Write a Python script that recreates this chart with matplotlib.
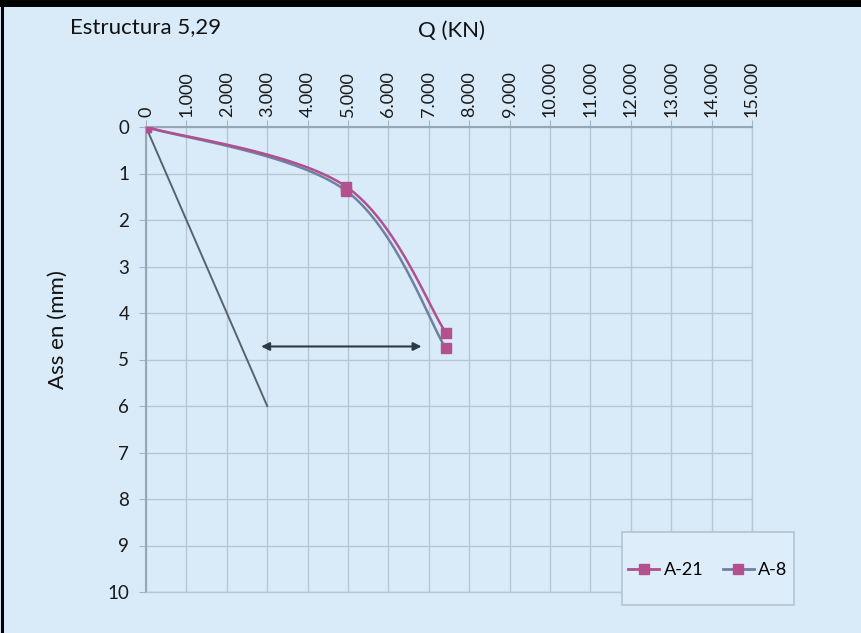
import numpy as np
import matplotlib
matplotlib.use("Agg")
import matplotlib.pyplot as plt
from matplotlib.ticker import FuncFormatter
from matplotlib.lines import Line2D
from matplotlib.patches import Rectangle

plt.rcParams["font.family"] = ["Lato", "DejaVu Sans"]

# ---- data ----
series_names = ["A-21", "A-8"]
q_a21 = [0, 4950, 7420]
d_a21 = [0, 1.28, 4.42]
q_a8 = [0, 4950, 7420]
d_a8 = [0, 1.37, 4.76]
ref_line_q = [0, 3000]
ref_line_d = [0, 6.0]
arrow_q = [2850, 6820]
arrow_d = [4.72, 4.72]
x_ticks = list(range(0, 15001, 1000))
y_ticks = list(range(0, 11))

BG = "#d9ebf9"
C_A21 = "#b0508f"
C_A8 = "#6f80a3"
C_MARK = "#b5508f"


def smooth(xs, ys, n=60):
    """Excel-like smoothed line (Catmull-Rom Bezier) through the points."""
    P = np.column_stack([xs, ys]).astype(float)
    ext = np.vstack([P[0], P, P[-1]])
    out = []
    t = np.linspace(0, 1, n)[:, None]
    for i in range(len(P) - 1):
        p0, p1, p2, p3 = ext[i], ext[i + 1], ext[i + 2], ext[i + 3]
        c1 = p1 + (p2 - p0) / 6.0
        c2 = p2 - (p3 - p1) / 6.0
        seg = ((1 - t) ** 3) * p1 + 3 * ((1 - t) ** 2) * t * c1 + 3 * (1 - t) * t ** 2 * c2 + t ** 3 * p2
        out.append(seg)
    out = np.vstack(out)
    return out[:, 0], out[:, 1]


fig = plt.figure(figsize=(8.61, 6.33), dpi=100, facecolor=BG)
ax = fig.add_axes([146 / 861, 1 - 592 / 633, (752 - 146) / 861, (592 - 127) / 633])
ax.set_facecolor(BG)

ax.set_xlim(0, 15000)
ax.set_ylim(10, 0)
ax.set_xticks(x_ticks)
ax.set_yticks(y_ticks)


def fmt(v, pos):
    v = int(round(v))
    return f"{v:,}".replace(",", ".")


ax.xaxis.set_major_formatter(FuncFormatter(fmt))
ax.xaxis.tick_top()
ax.tick_params(axis="x", labelrotation=90, labelsize=13, length=5, color="#a5b4c2", pad=2)
ax.tick_params(axis="y", labelsize=13.5, length=5, color="#a5b4c2", pad=7)
for lab in ax.get_xticklabels() + ax.get_yticklabels():
    lab.set_color("#1a1a1a")

ax.grid(True, color="#b7c6d3", linewidth=1.0)
ax.set_axisbelow(True)
for s in ["right", "bottom"]:
    ax.spines[s].set_color("#b7c6d3")
    ax.spines[s].set_linewidth(1.0)
for s in ["left", "top"]:
    ax.spines[s].set_color("#97a6b4")
    ax.spines[s].set_linewidth(1.5)

# reference line and arrow
ax.plot(ref_line_q, ref_line_d, color="#59636c", lw=1.4, zorder=3)
ax.annotate("", xy=(arrow_q[1], arrow_d[1]), xytext=(arrow_q[0], arrow_d[0]),
            arrowprops=dict(arrowstyle="<|-|>", color="#2f3a42", lw=1.5,
                            mutation_scale=12, shrinkA=0, shrinkB=0), zorder=4)

# series
sx, sy = smooth(q_a8, d_a8)
ax.plot(sx, sy, color=C_A8, lw=1.8, zorder=5)
sx, sy = smooth(q_a21, d_a21)
ax.plot(sx, sy, color=C_A21, lw=1.8, zorder=6)
ax.plot(q_a8, d_a8, ls="none", marker="s", ms=7, color=C_MARK, zorder=7)
ax.plot(q_a21, d_a21, ls="none", marker="s", ms=7, color=C_MARK, zorder=7)

# legend box
fig.add_artist(Rectangle((622 / 861, 1 - 605 / 633), (794 - 622) / 861, (605 - 532) / 633,
                         transform=fig.transFigure, facecolor="#ddedfa",
                         edgecolor="#b4c3d0", lw=1.2, zorder=5))
handles = [
    Line2D([0], [0], color=C_A21, lw=2, marker="s", ms=7, mfc=C_MARK, mec=C_MARK),
    Line2D([0], [0], color=C_A8, lw=2, marker="s", ms=7, mfc=C_MARK, mec=C_MARK),
]
leg = fig.legend(handles, series_names, loc="center",
                 bbox_to_anchor=(708 / 861, 1 - 570 / 633), ncol=2,
                 fontsize=13, frameon=False, handlelength=1.7,
                 handletextpad=0.25, columnspacing=1.1, borderpad=0,
                 borderaxespad=0)
leg.set_zorder(6)

# texts
fig.text(70 / 861, 1 - 27 / 633, "Estructura 5,29", fontsize=16, ha="left", va="center", color="#111111")
fig.text(452 / 861, 1 - 31 / 633, "Q (KN)", fontsize=16, ha="center", va="center", color="#111111")
fig.text(58 / 861, 1 - 330 / 633, "Ass en (mm)", fontsize=16, ha="center", va="center",
         rotation=90, color="#111111")

# frame border (top and left)
fig.add_artist(Line2D([0, 1], [1 - 3 / 633, 1 - 3 / 633], transform=fig.transFigure, color="black", lw=5))
fig.add_artist(Line2D([1.5 / 861, 1.5 / 861], [0, 1], transform=fig.transFigure, color="black", lw=2.2))

fig.savefig("out.png", dpi=100, facecolor=BG)
